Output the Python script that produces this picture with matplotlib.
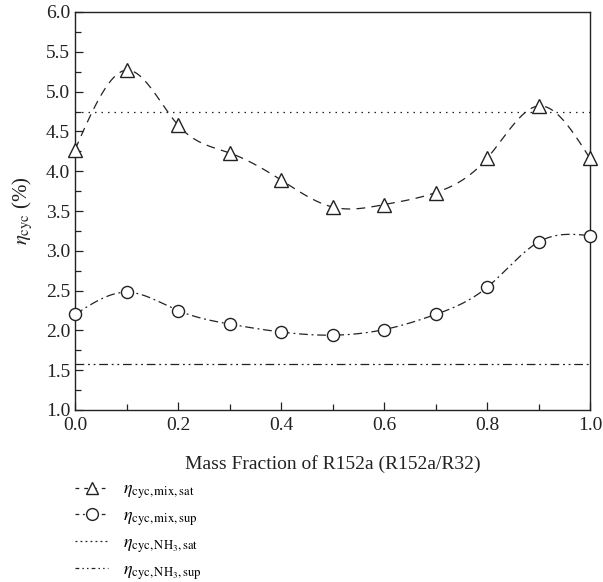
import numpy as np
import matplotlib
matplotlib.use("Agg")
import matplotlib.pyplot as plt
from matplotlib.ticker import MultipleLocator
from matplotlib.lines import Line2D

plt.rcParams['font.family'] = ['Liberation Serif', 'DejaVu Serif']
plt.rcParams['mathtext.fontset'] = 'stix'

x = [0.0, 0.1, 0.2, 0.3, 0.4, 0.5, 0.6, 0.7, 0.8, 0.9, 1.0]
eta_mix_sat = [4.27, 5.27, 4.58, 4.23, 3.89, 3.55, 3.58, 3.73, 4.16, 4.82, 4.16]
eta_mix_sup = [2.20, 2.48, 2.25, 2.08, 1.98, 1.94, 2.01, 2.20, 2.54, 3.11, 3.19]
eta_nh3_sat = 4.75
eta_nh3_sup = 1.58


def natural_spline(xs, ys, n=400):
    xs = np.asarray(xs, float)
    ys = np.asarray(ys, float)
    m = len(xs)
    h = np.diff(xs)
    A = np.zeros((m, m))
    b = np.zeros(m)
    A[0, 0] = 1
    A[-1, -1] = 1
    for i in range(1, m - 1):
        A[i, i - 1] = h[i - 1]
        A[i, i] = 2 * (h[i - 1] + h[i])
        A[i, i + 1] = h[i]
        b[i] = 6 * ((ys[i + 1] - ys[i]) / h[i] - (ys[i] - ys[i - 1]) / h[i - 1])
    M = np.linalg.solve(A, b)
    xx = np.linspace(xs[0], xs[-1], n)
    idx = np.clip(np.searchsorted(xs, xx) - 1, 0, m - 2)
    x0, x1 = xs[idx], xs[idx + 1]
    hh = x1 - x0
    t1 = x1 - xx
    t0 = xx - x0
    yy = (M[idx] * t1 ** 3 / (6 * hh) + M[idx + 1] * t0 ** 3 / (6 * hh)
          + (ys[idx] / hh - M[idx] * hh / 6) * t1
          + (ys[idx + 1] / hh - M[idx + 1] * hh / 6) * t0)
    return xx, yy


fig = plt.figure(figsize=(6.03, 5.82), dpi=100)
ax = fig.add_axes([75 / 603, 1 - 410 / 582, 515 / 603, 398 / 582])

lw = 0.9
col = '#222222'
xs1, ys1 = natural_spline(x, eta_mix_sat)
xs2, ys2 = natural_spline(x, eta_mix_sup)
ax.plot(xs1, ys1, color=col, lw=lw, dashes=(7, 5), zorder=2)
ax.plot(xs2, ys2, color=col, lw=lw, dashes=(7, 3, 1.5, 3), zorder=2)
ax.plot(x, eta_mix_sat, ls='none', marker='^', ms=9.5, mfc='white', mec=col, mew=1.0, zorder=3, clip_on=False)
ax.plot(x, eta_mix_sup, ls='none', marker='o', ms=8.7, mfc='white', mec=col, mew=1.0, zorder=3, clip_on=False)
ax.axhline(eta_nh3_sat, color=col, lw=lw, dashes=(1.2, 4))
ax.axhline(eta_nh3_sup, color=col, lw=lw, dashes=(7, 3, 1.5, 3, 1.5, 3))

ax.set_xlim(0, 1)
ax.set_ylim(1, 6)
ax.xaxis.set_major_locator(MultipleLocator(0.2))
ax.xaxis.set_minor_locator(MultipleLocator(0.1))
ax.yaxis.set_major_locator(MultipleLocator(0.5))
ax.yaxis.set_minor_locator(MultipleLocator(0.25))
ax.xaxis.set_major_formatter(plt.FuncFormatter(lambda v, p: f"{v:.1f}"))
ax.yaxis.set_major_formatter(plt.FuncFormatter(lambda v, p: f"{v:.1f}"))
ax.tick_params(which='both', direction='in', top=False, right=False, labelsize=14, colors=col)
ax.tick_params(which='major', length=6, width=0.9)
ax.tick_params(which='minor', length=4, width=0.9)
ax.tick_params(axis='x', pad=5)
for s in ax.spines.values():
    s.set_linewidth(1.0)
    s.set_color(col)

ax.set_xlabel('Mass Fraction of R152a (R152a/R32)', fontsize=14, color=col, labelpad=15)
ax.set_ylabel(r'$\eta_{\mathrm{cyc}}$ (%)', fontsize=15, color=col, labelpad=8)

handles = [
    Line2D([], [], color=col, lw=lw, dashes=(3, 4), marker='^', ms=9, mfc='white', mec=col),
    Line2D([], [], color=col, lw=lw, dashes=(3, 3, 1.5, 3), marker='o', ms=8.5, mfc='white', mec=col),
    Line2D([], [], color=col, lw=lw, dashes=(1.5, 2.5)),
    Line2D([], [], color=col, lw=lw, dashes=(3, 2.5, 1.2, 2.5, 1.2, 2.5)),
]
labels = [r'$\eta_{\mathrm{cyc,mix,sat}}$', r'$\eta_{\mathrm{cyc,mix,sup}}$',
          r'$\eta_{\mathrm{cyc,NH_3,sat}}$', r'$\eta_{\mathrm{cyc,NH_3,sup}}$']
fig.legend(handles, labels, loc='upper left', bbox_to_anchor=(75 / 603, 1 - 481 / 582),
           frameon=False, fontsize=13, handlelength=1.85, labelspacing=0.35,
           handletextpad=0.8, borderpad=0, borderaxespad=0)

fig.savefig('out.png', dpi=100, facecolor='white')
